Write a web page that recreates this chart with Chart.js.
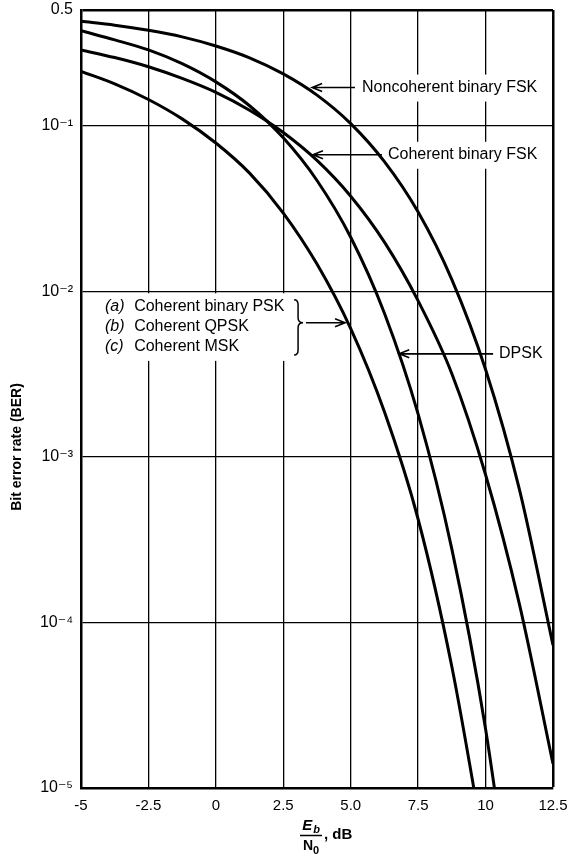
<!DOCTYPE html>
<html><head><meta charset="utf-8">
<script src="https://cdn.jsdelivr.net/npm/chart.js@4"></script>
<style>html,body{margin:0;padding:0;background:#fff}canvas{display:block}</style>
</head><body>
<canvas id="c" width="586" height="858"></canvas>
<script>
// ---- data ----
const ebN0 = [-5, -3.75, -2.5, -1.25, 0, 1.25, 2.5, 3.75, 5, 6.25, 7.5, 8.75, 10, 11.25, 12.5];
const berCoherentPSK = [0.213, 0.179, 0.144, 0.110, 0.0786, 0.0517, 0.0297, 0.0146, 0.00595, 0.00187, 4.2e-4, 5.4e-5, 3.9e-6, null, null];
const berDPSK = [0.375, 0.330, 0.287, 0.237, 0.184, 0.132, 0.0845, 0.0467, 0.0212, 0.00737, 0.00181, 2.77e-4, 2.27e-5, 8.1e-7, null];
const berCoherentFSK = [0.287, 0.258, 0.227, 0.193, 0.159, 0.124, 0.091, 0.0617, 0.0375, 0.0198, 0.00875, 0.00318, 7.8e-4, 1.3e-4, 1.4e-5];
const berNoncoherentFSK = [0.427, 0.405, 0.377, 0.344, 0.303, 0.257, 0.2055, 0.153, 0.103, 0.0607, 0.0301, 0.01176, 0.00337, 6.4e-4, 7.3e-5];

const xTickValues = [-5, -2.5, 0, 2.5, 5, 7.5, 10, 12.5];
const xTickLabels = ['-5', '-2.5', '0', '2.5', '5.0', '7.5', '10', '12.5'];
const yTickValues = [1e-5, 1e-4, 1e-3, 1e-2, 1e-1, 0.5];
const yTickLabels = ['10⁻⁵', '10⁻⁴', '10⁻³', '10⁻²', '10⁻¹', '0.5'];

const yTitle = 'Bit error rate (BER)';
const legendLines = [['(a)', 'Coherent binary PSK'], ['(b)', 'Coherent QPSK'], ['(c)', 'Coherent MSK']];
const labelNCFSK = 'Noncoherent binary FSK';
const labelCFSK = 'Coherent binary FSK';
const labelDPSK = 'DPSK';

const FONT = '"Liberation Sans", Arial, "DejaVu Sans", sans-serif';

function series(vals) {
  return ebN0.map((x, i) => ({x: x, y: vals[i]}));
}
function ds(vals) {
  return {data: series(vals), borderColor: '#000', borderWidth: 3, pointRadius: 0,
          cubicInterpolationMode: 'monotone', fill: false, spanGaps: false};
}

const annot = {
  id: 'annot',
  beforeDatasetsDraw(chart) {
    const {ctx, scales: {x, y}} = chart;
    const X = v => x.getPixelForValue(v), Y = v => y.getPixelForValue(v);
    ctx.save();
    ctx.fillStyle = '#fff';
    ctx.font = '16px ' + FONT;
    let w = ctx.measureText(labelNCFSK).width;
    ctx.fillRect(X(5.2), Y(0.170) - 13, X(5.42) - X(5.2) + w + 3, 27);
    w = ctx.measureText(labelCFSK).width;
    ctx.fillRect(X(6.22), Y(0.0668) - 13, X(6.38) - X(6.22) + w + 3, 27);
    ctx.fillRect(X(-4.5), Y(0.01) + 2, X(3.2) - X(-4.5), Y(0.0038) - Y(0.01) - 2);
    ctx.restore();
  },
  afterDatasetsDraw(chart) {
    const {ctx, scales: {x, y}} = chart;
    const X = v => x.getPixelForValue(v), Y = v => y.getPixelForValue(v);
    ctx.save();
    ctx.fillStyle = '#000';
    ctx.strokeStyle = '#000';
    ctx.textBaseline = 'middle';
    ctx.textAlign = 'left';
    ctx.font = '16px ' + FONT;
    function arrow(x1, x2, yy) {
      const dir = x2 > x1 ? 1 : -1;
      ctx.lineWidth = 1.6;
      ctx.beginPath();
      ctx.moveTo(x1, yy); ctx.lineTo(x2, yy);
      ctx.moveTo(x2 - dir * 10, yy - 4); ctx.lineTo(x2, yy); ctx.lineTo(x2 - dir * 10, yy + 4);
      ctx.stroke();
    }
    ctx.fillText(labelNCFSK, X(5.42), Y(0.170));
    arrow(X(5.16), X(3.57), Y(0.170));
    ctx.fillText(labelCFSK, X(6.38), Y(0.0668));
    arrow(X(6.16), X(3.6), Y(0.0668));
    ctx.fillText(labelDPSK, X(10.5), Y(0.00419));
    arrow(X(10.28), X(6.8), Y(0.00419));
    const ly = [0.00805, 0.0061, 0.00462];
    legendLines.forEach((l, i) => {
      ctx.font = 'italic 16px ' + FONT;
      ctx.fillText(l[0], X(-4.11), Y(ly[i]));
      ctx.font = '16px ' + FONT;
      ctx.fillText(l[1], X(-3.03), Y(ly[i]));
    });
    const bx = X(2.9), yt = Y(0.0089), yb = Y(0.00413), ym = Y(0.00646);
    ctx.lineWidth = 1.5;
    ctx.beginPath();
    ctx.moveTo(bx, yt);
    ctx.quadraticCurveTo(bx + 4, yt, bx + 4, yt + 5);
    ctx.lineTo(bx + 4, ym - 5);
    ctx.quadraticCurveTo(bx + 4, ym, bx + 9, ym);
    ctx.quadraticCurveTo(bx + 4, ym, bx + 4, ym + 5);
    ctx.lineTo(bx + 4, yb - 5);
    ctx.quadraticCurveTo(bx + 4, yb, bx, yb);
    ctx.stroke();
    arrow(X(3.34), X(4.79), ym);

    ctx.save();
    ctx.translate(17, 447);
    ctx.rotate(-Math.PI / 2);
    ctx.textAlign = 'center';
    ctx.font = 'bold 14px ' + FONT;
    ctx.fillText(yTitle, 0, 0);
    ctx.restore();

    const ca = chart.chartArea;
    const cx = (ca.left + ca.right) / 2 - 6;
    ctx.textAlign = 'left';
    ctx.textBaseline = 'alphabetic';
    ctx.font = 'bold italic 15px ' + FONT;
    const wE = ctx.measureText('E').width;
    ctx.font = 'bold italic 11px ' + FONT;
    const wb = ctx.measureText('b').width;
    const topW = wE + wb + 1;
    ctx.font = 'bold italic 15px ' + FONT;
    ctx.fillText('E', cx - topW / 2, 830);
    ctx.font = 'bold italic 11px ' + FONT;
    ctx.fillText('b', cx - topW / 2 + wE + 1, 833);
    ctx.lineWidth = 1.5;
    ctx.beginPath(); ctx.moveTo(cx - 11, 835.5); ctx.lineTo(cx + 11, 835.5); ctx.stroke();
    ctx.font = 'bold 14px ' + FONT;
    const wN = ctx.measureText('N').width;
    ctx.font = 'bold 11px ' + FONT;
    const w0 = ctx.measureText('0').width;
    const botW = wN + w0;
    ctx.font = 'bold 14px ' + FONT;
    ctx.fillText('N', cx - botW / 2, 850);
    ctx.font = 'bold 11px ' + FONT;
    ctx.fillText('0', cx - botW / 2 + wN, 854);
    ctx.font = 'bold 15px ' + FONT;
    ctx.fillText(', dB', cx + 13, 839);
    ctx.restore();
  }
};

new Chart(document.getElementById('c'), {
  type: 'line',
  data: {datasets: [ds(berNoncoherentFSK), ds(berCoherentFSK), ds(berDPSK), ds(berCoherentPSK)]},
  options: {
    responsive: false,
    animation: false,
    layout: {padding: {top: 10, right: 33, left: 0, bottom: 0}},
    plugins: {legend: {display: false}, tooltip: {enabled: false}},
    scales: {
      x: {
        type: 'linear', min: -5, max: 12.5,
        afterBuildTicks: s => { s.ticks = xTickValues.map(v => ({value: v})); },
        afterFit: s => { s.height = 70; s.paddingLeft = 0; s.paddingRight = 0; },
        ticks: {
          callback: (v) => { const i = xTickValues.indexOf(v); return i >= 0 ? xTickLabels[i] : ''; },
          color: '#000', font: {family: FONT, size: 15}, padding: 9, maxRotation: 0, autoSkip: false
        },
        grid: {color: '#000', lineWidth: c => (c.index === xTickValues.length - 1 ? 2.5 : 1.3), drawTicks: false},
        border: {display: true, color: '#000', width: 2.5}
      },
      y: {
        type: 'logarithmic', min: 1e-5, max: 0.5,
        afterBuildTicks: s => { s.ticks = yTickValues.map(v => ({value: v})); },
        afterFit: s => { s.width = 81; s.paddingTop = 0; s.paddingBottom = 0; },
        ticks: {
          callback: (v) => { const i = yTickValues.findIndex(t => Math.abs(t - v) / t < 1e-6); return i >= 0 ? yTickLabels[i] : ''; },
          color: '#000', font: {family: FONT, size: 16}, padding: 8, autoSkip: false
        },
        grid: {color: '#000', lineWidth: c => (c.index === yTickValues.length - 1 ? 2.5 : 1.3), drawTicks: false},
        border: {display: true, color: '#000', width: 2.5}
      }
    }
  },
  plugins: [annot]
});
</script>
</body></html>
